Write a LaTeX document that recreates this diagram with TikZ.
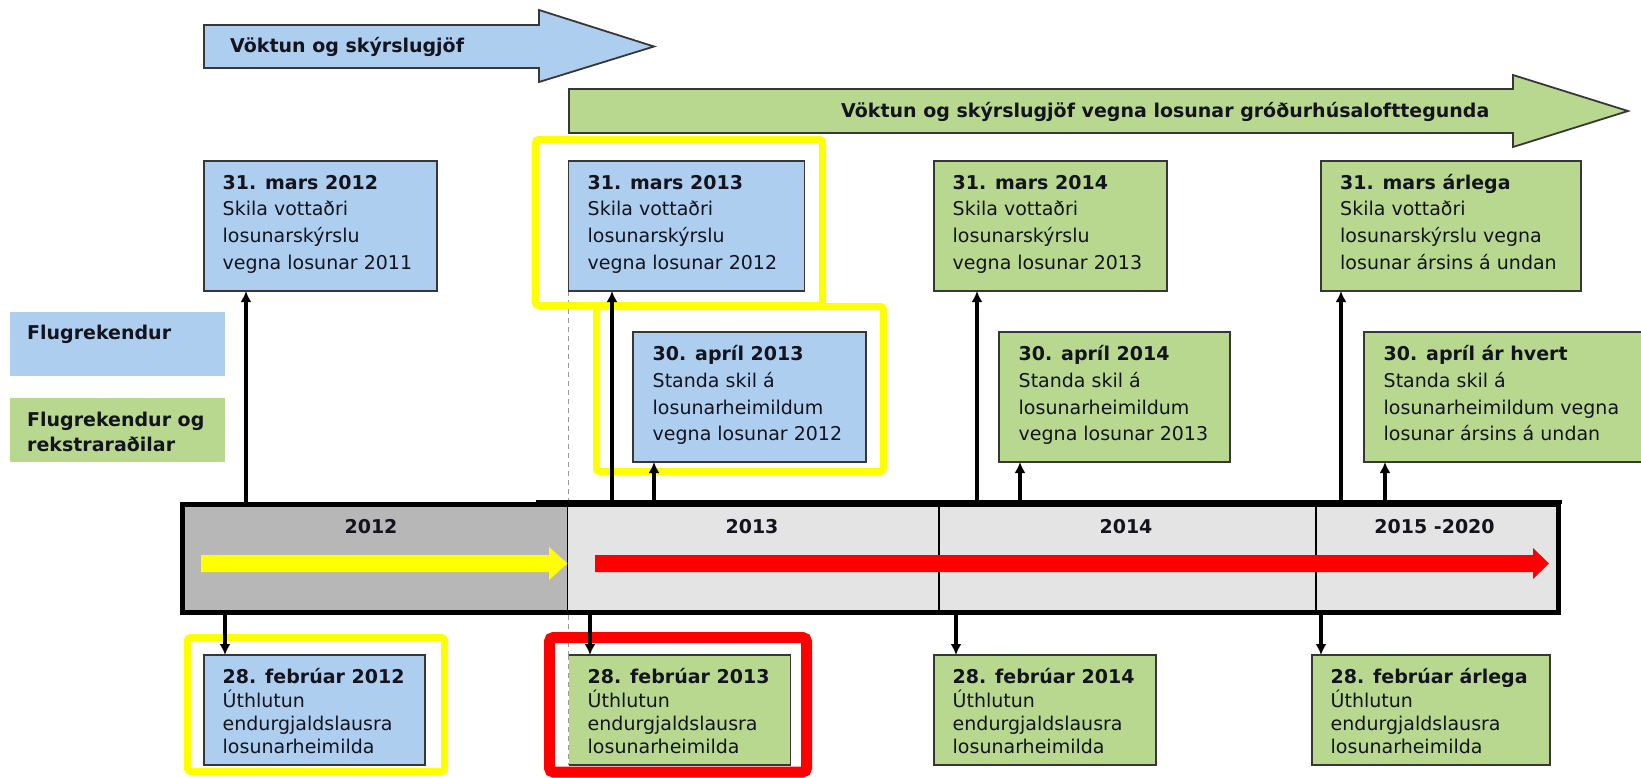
\documentclass[tikz,border=0pt]{standalone}
\usepackage{fontspec}
\setmainfont{DejaVu Sans}
\usetikzlibrary{arrows.meta}
\pgfdeclarelayer{background}
\pgfsetlayers{background,main}

\definecolor{bluefill}{RGB}{174,206,240}
\definecolor{greenfill}{RGB}{184,216,144}
\definecolor{bordergray}{RGB}{55,55,55}
\definecolor{bargray}{RGB}{183,183,183}
\definecolor{barlight}{RGB}{228,228,228}
\definecolor{hlyellow}{RGB}{255,255,0}
\definecolor{hlred}{RGB}{255,0,0}
\definecolor{txtdark}{RGB}{20,20,30}

\newcommand\boxlines[4]{\rule{0pt}{16pt}\textbf{#1}\\#2\\#3\\#4}

\tikzset{
  boxbase/.style={anchor=north west, inner sep=0pt, outer sep=0pt},
  datebox/.style={boxbase, draw=bordergray, line width=1.8pt},
  bluebox/.style={datebox, fill=bluefill},
  greenbox/.style={datebox, fill=greenfill},
  toptxt/.style={anchor=north west, inner sep=0pt, align=left, text=txtdark,
    font=\fontsize{19}{26.8}\selectfont},
  bottxt/.style={toptxt, font=\fontsize{19}{23.3}\selectfont},
  boldtxt/.style={anchor=base west, inner sep=0pt, text=txtdark,
    font=\bfseries\fontsize{19}{25}\selectfont},
  yeartxt/.style={anchor=base, inner sep=0pt, text=txtdark,
    font=\bfseries\fontsize{19}{25}\selectfont},
  bigarrow/.style={draw=bordergray, line width=1.8pt, line join=miter},
  cell/.style={boxbase, draw=black, line width=1.5pt, minimum height=108pt},
  conn/.style={line width=3.2pt, draw=black, -{Latex[length=11pt,width=11pt]}},
  dashline/.style={draw=gray!80, line width=1.2pt, dash pattern=on 5pt off 4pt},
  yframe/.style={draw=hlyellow, line width=7pt, rounded corners=3pt},
  rframe/.style={draw=hlred, line width=11pt, rounded corners=4pt},
}

\begin{document}
\begin{tikzpicture}[x=1pt,y=-1pt]
\useasboundingbox (0,0) rectangle (1641,777);
\clip (0,0) rectangle (1641,777);

% legend
\node[boxbase, fill=bluefill, minimum width=215pt, minimum height=64pt] (legB) at (10,312) {};
\node[boldtxt] (legBt) at (27,339) {Flugrekendur};
\node[boxbase, fill=greenfill, minimum width=215pt, minimum height=64pt] (legG) at (10,398) {};
\node[boldtxt] (legGt1) at (27,426) {Flugrekendur og};
\node[boldtxt] (legGt2) at (27,451) {rekstraraðilar};

% big phase arrows
\draw[bigarrow, fill=bluefill] (204,25) -- (539,25) -- (539,10) -- (654,46.5) -- (539,82) -- (539,68) -- (204,68) -- cycle;
\node[boldtxt] (ph1) at (230,52) {Vöktun og skýrslugjöf};
\draw[bigarrow, fill=greenfill] (569,89) -- (1513,89) -- (1513,75) -- (1628,111) -- (1513,147) -- (1513,133) -- (569,133) -- cycle;
\node[boldtxt] (ph2) at (841,117) {Vöktun og skýrslugjöf vegna losunar gróðurhúsalofttegunda};

% top boxes
\node[bluebox, minimum width=233pt, minimum height=130pt] (A) at (204,161) {};
\node[toptxt] (At) at ([shift={(18.5,11.8)}]A.north west) {\boxlines{31. mars 2012}{Skila vottaðri}{losunarskýrslu}{vegna losunar 2011}};
\node[bluebox, minimum width=236pt, minimum height=130pt] (B) at (568.5,161) {};
\node[toptxt] (Bt) at ([shift={(19,11.8)}]B.north west) {\boxlines{31. mars 2013}{Skila vottaðri}{losunarskýrslu}{vegna losunar 2012}};
\node[greenbox, minimum width=233pt, minimum height=130pt] (C) at (934,161) {};
\node[toptxt] (Ct) at ([shift={(18.5,11.8)}]C.north west) {\boxlines{31. mars 2014}{Skila vottaðri}{losunarskýrslu}{vegna losunar 2013}};
\node[greenbox, minimum width=260pt, minimum height=130pt] (D) at (1321,161) {};
\node[toptxt] (Dt) at ([shift={(19,11.8)}]D.north west) {\boxlines{31. mars árlega}{Skila vottaðri}{losunarskýrslu vegna}{losunar ársins á undan}};

% middle boxes
\node[bluebox, minimum width=233pt, minimum height=130pt] (E) at (633,332) {};
\node[toptxt] (Et) at ([shift={(19.5,12.3)}]E.north west) {\boxlines{30. apríl 2013}{Standa skil á}{losunarheimildum}{vegna losunar 2012}};
\node[greenbox, minimum width=231pt, minimum height=130pt] (F) at (999,332) {};
\node[toptxt] (Ft) at ([shift={(19.5,12.3)}]F.north west) {\boxlines{30. apríl 2014}{Standa skil á}{losunarheimildum}{vegna losunar 2013}};
\node[greenbox, minimum width=290pt, minimum height=130pt] (G) at (1364,332) {};
\node[toptxt] (Gt) at ([shift={(19.5,12.3)}]G.north west) {\boxlines{30. apríl ár hvert}{Standa skil á}{losunarheimildum vegna}{losunar ársins á undan}};

% bottom boxes
\node[bluebox, minimum width=221pt, minimum height=110pt] (H) at (204,655) {};
\node[bottxt] (Ht) at ([shift={(18.5,12.6)}]H.north west) {\boxlines{28. febrúar 2012}{Úthlutun}{endurgjaldslausra}{losunarheimilda}};
\node[boxbase, fill=greenfill, minimum width=222pt, minimum height=110pt] (I) at (568.5,655) {};
\draw[draw=bordergray, line width=1.8pt] (I.north west) -- (I.north east) -- (I.south east) -- (I.south west);
\draw[dashline] (I.north west) -- (I.south west);
\node[bottxt] (It) at ([shift={(19,12.6)}]I.north west) {\boxlines{28. febrúar 2013}{Úthlutun}{endurgjaldslausra}{losunarheimilda}};
\node[greenbox, minimum width=222pt, minimum height=110pt] (J) at (934,655) {};
\node[bottxt] (Jt) at ([shift={(18.5,12.6)}]J.north west) {\boxlines{28. febrúar 2014}{Úthlutun}{endurgjaldslausra}{losunarheimilda}};
\node[greenbox, minimum width=238pt, minimum height=110pt] (K) at (1312,655) {};
\node[bottxt] (Kt) at ([shift={(18.5,12.6)}]K.north west) {\boxlines{28. febrúar árlega}{Úthlutun}{endurgjaldslausra}{losunarheimilda}};

% timeline bar
\node[cell, fill=bargray, minimum width=385pt] (c12) at (182.5,504.5) {};
\node[cell, fill=barlight, minimum width=371.5pt] (c13) at (567.5,504.5) {};
\node[cell, fill=barlight, minimum width=377pt] (c14) at (939,504.5) {};
\node[cell, fill=barlight, minimum width=242pt] (c15) at (1316,504.5) {};
\node[boxbase, draw=black, line width=5pt, minimum width=1375.5pt, minimum height=108pt] (bar) at (182.5,504.5) {};
\draw[line width=4pt] (536,501.5) -- (1562,501.5);
\node[yeartxt] (y12) at (371,533) {2012};
\node[yeartxt] (y13) at (752,533) {2013};
\node[yeartxt] (y14) at (1126,533) {2014};
\node[yeartxt] (y15) at (1434.5,533) {2015 -2020};

% yellow and red arrows in the bar
\fill[hlyellow] (201,555) -- (549,555) -- (549,547) -- (567.5,563.5) -- (549,580) -- (549,572) -- (201,572) -- cycle;
\fill[hlred] (595,555) -- (1533,555) -- (1533,548) -- (1549,563.5) -- (1533,579) -- (1533,572) -- (595,572) -- cycle;

% connector anchor points on the boxes
\coordinate (aA) at ([xshift=42pt]A.south west);
\coordinate (aB) at ([xshift=43.5pt]B.south west);
\coordinate (aC) at ([xshift=43pt]C.south west);
\coordinate (aD) at ([xshift=20pt]D.south west);
\coordinate (aE) at ([xshift=21pt]E.south west);
\coordinate (aF) at ([xshift=21pt]F.south west);
\coordinate (aG) at ([xshift=21pt]G.south west);
\coordinate (aH) at ([xshift=21pt]H.north west);
\coordinate (aI) at ([xshift=21.5pt]I.north west);
\coordinate (aJ) at ([xshift=22pt]J.north west);
\coordinate (aK) at ([xshift=9pt]K.north west);

\foreach \p in {aA,aB,aC,aD,aE,aF,aG} {
  \draw[conn] (bar.north -| \p) -- (\p);
}
\foreach \p in {aH,aI,aJ,aK} {
  \draw[conn] (bar.south -| \p) -- (\p);
}

% background: dashed guide and highlight frames
\begin{pgfonlayer}{background}
  \draw[dashline] (B.south west) -- (I.north west);
  \draw[yframe] (535.5,139.5) rectangle (822.5,305.5);
  \draw[yframe] (596.5,306.5) rectangle (883.5,471.5);
  \draw[yframe] (187.5,637.5) rectangle (444.5,771.5);
  \draw[rframe] (549.5,637.5) rectangle (806.5,772);
\end{pgfonlayer}
\end{tikzpicture}
\end{document}
